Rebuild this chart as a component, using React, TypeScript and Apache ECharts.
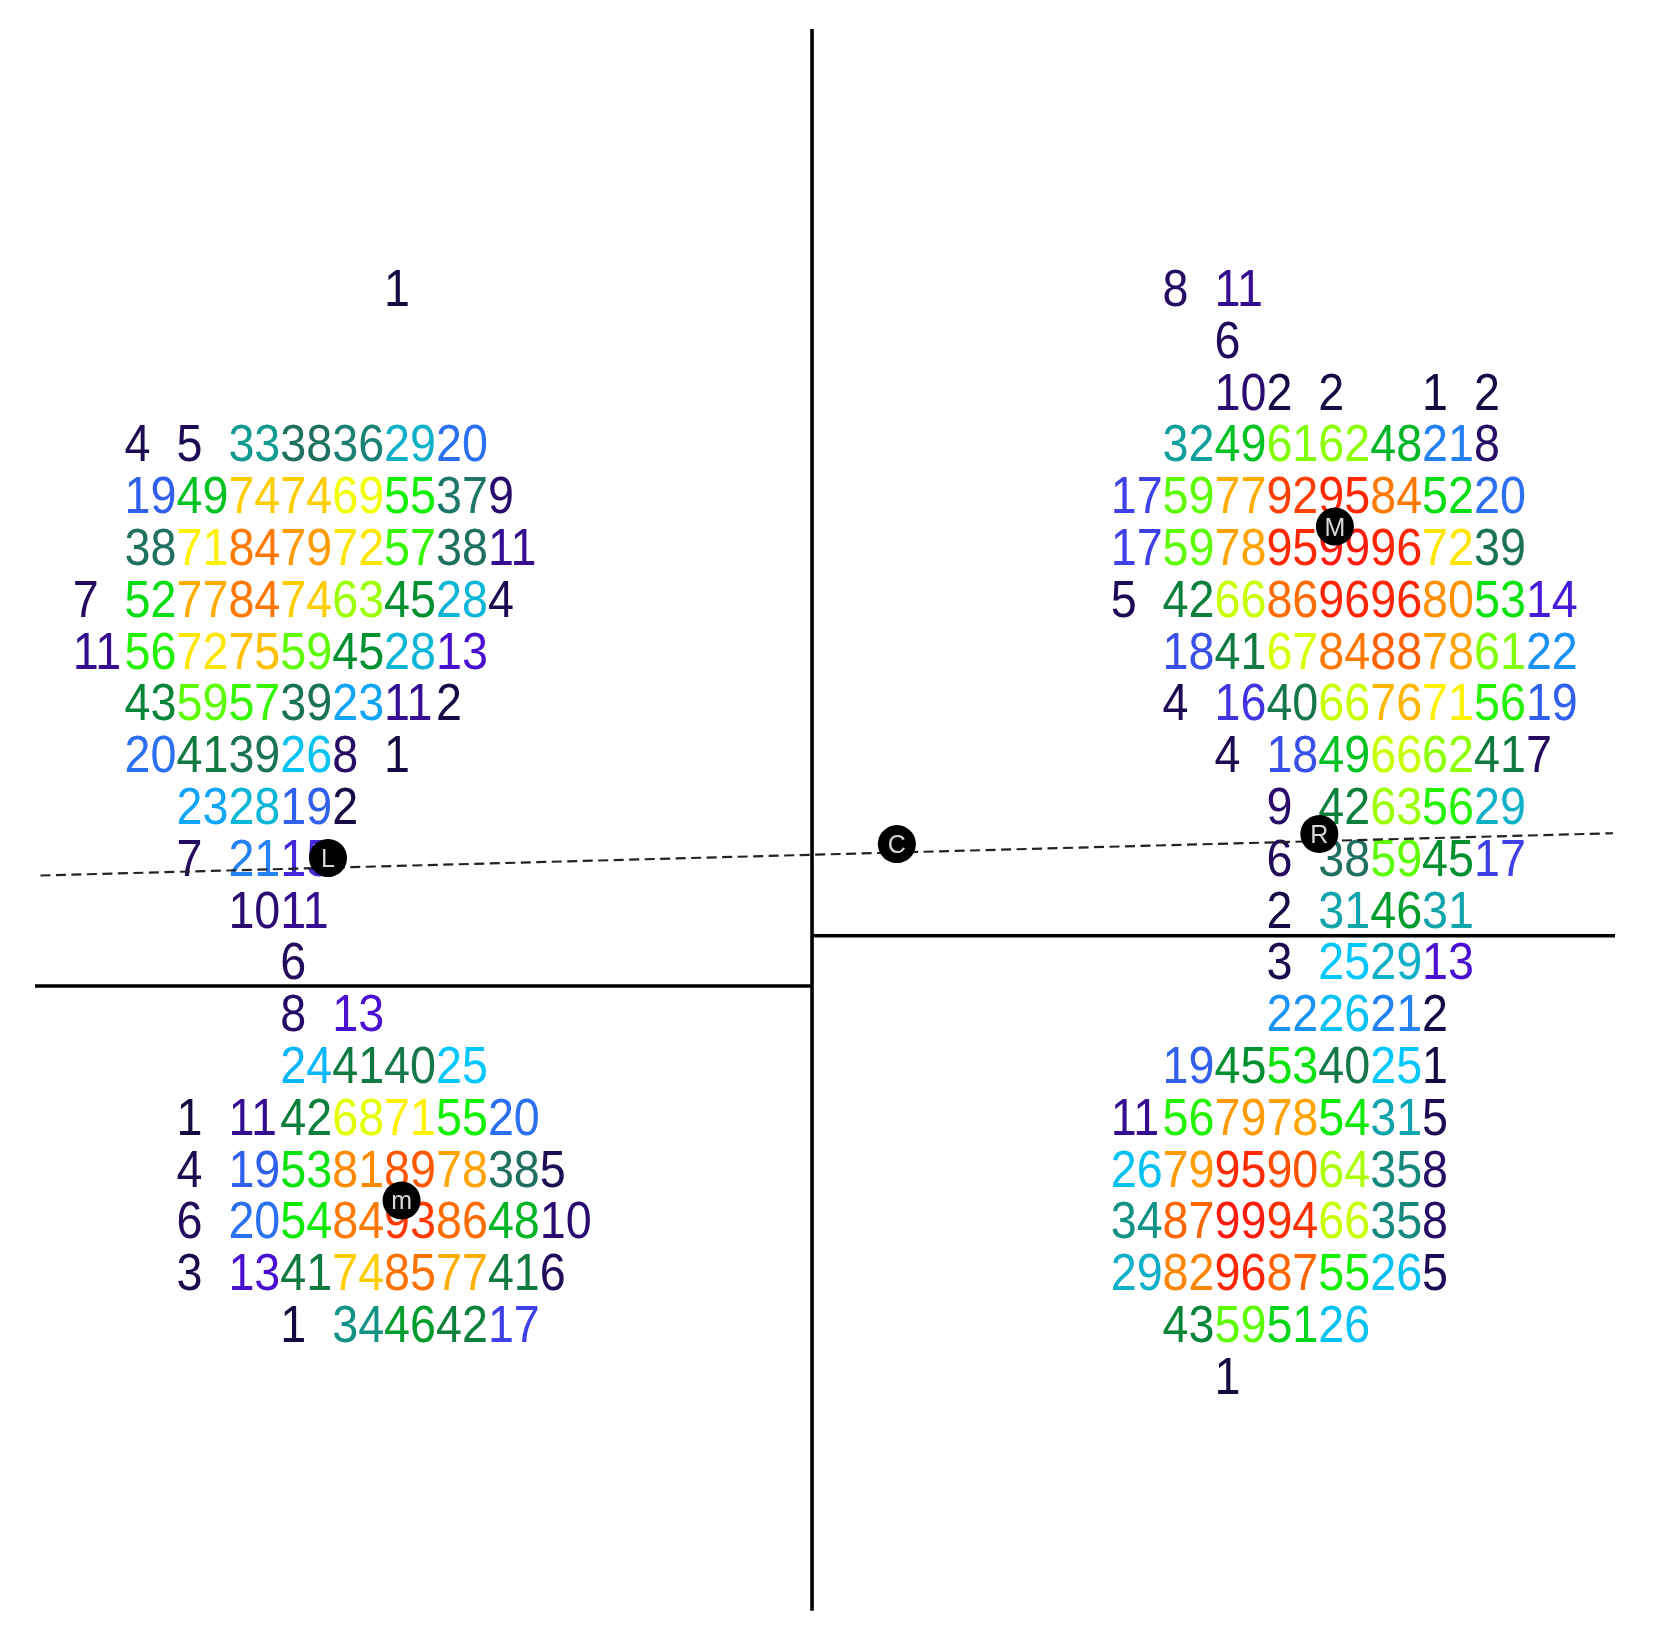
import React, { useEffect, useRef } from "react";
import * as echarts from "echarts";

const _ = null;

// Code-book counts per hexagon row; first entry of each row sits in column leftStartCol / rightStartCol
const leftStartCol = 0;
const leftRows: (number | null)[][] = [
  [_, _, _, _, _, _, 1],
  [],
  [],
  [_, 4, 5, 33, 38, 36, 29, 20],
  [_, 19, 49, 74, 74, 69, 55, 37, 9],
  [_, 38, 71, 84, 79, 72, 57, 38, 11],
  [7, 52, 77, 84, 74, 63, 45, 28, 4],
  [11, 56, 72, 75, 59, 45, 28, 13],
  [_, 43, 59, 57, 39, 23, 11, 2],
  [_, 20, 41, 39, 26, 8, 1],
  [_, _, 23, 28, 19, 2],
  [_, _, 7, 21, 15],
  [_, _, _, 10, 11],
  [_, _, _, _, 6],
  [_, _, _, _, 8, 13],
  [_, _, _, _, 24, 41, 40, 25],
  [_, _, 1, 11, 42, 68, 71, 55, 20],
  [_, _, 4, 19, 53, 81, 89, 78, 38, 5],
  [_, _, 6, 20, 54, 84, 93, 86, 48, 10],
  [_, _, 3, 13, 41, 74, 85, 77, 41, 6],
  [_, _, _, _, 1, 34, 46, 42, 17],
];

const rightStartCol = 20;
const rightRows: (number | null)[][] = [
  [_, 8, 11],
  [_, _, 6],
  [_, _, 10, 2, 2, _, 1, 2],
  [_, 32, 49, 61, 62, 48, 21, 8],
  [17, 59, 77, 92, 95, 84, 52, 20],
  [17, 59, 78, 95, 99, 96, 72, 39],
  [5, 42, 66, 86, 96, 96, 80, 53, 14],
  [_, 18, 41, 67, 84, 88, 78, 61, 22],
  [_, 4, 16, 40, 66, 76, 71, 56, 19],
  [_, _, 4, 18, 49, 66, 62, 41, 7],
  [_, _, _, 9, 42, 63, 56, 29],
  [_, _, _, 6, 38, 59, 45, 17],
  [_, _, _, 2, 31, 46, 31],
  [_, _, _, 3, 25, 29, 13],
  [_, _, _, 22, 26, 21, 2],
  [_, 19, 45, 53, 40, 25, 1],
  [11, 56, 79, 78, 54, 31, 5],
  [26, 79, 95, 90, 64, 35, 8],
  [34, 87, 99, 94, 66, 35, 8],
  [29, 82, 96, 87, 55, 26, 5],
  [_, 43, 59, 51, 26],
  [_, _, 1],
];

const centerNames = ["L", "C", "M", "R", "m"];
const centerCols = [4.919, 15.88, 24.32, 24.02, 6.337];
const centerRows = [10.999, 10.73, 4.6, 10.535, 17.61];

const dashedCols = [-0.622, 29.678];
const dashedRows = [11.336, 10.52];
const verticalCol = 14.245;
const verticalRows = [-5.006, 25.529];
const leftRuleRow = 13.469;
const leftRuleCols = [-0.726, 14.245];
const rightRuleRow = 12.5;
const rightRuleCols = [14.245, 29.717];

const colorValues = [1, 10, 13, 17, 20, 25, 29, 33, 38, 41, 45, 50, 55, 60, 66, 70, 75, 80, 88, 95, 99];
const colorStops = [
  "#150a40", "#2a0c70", "#4a10d0", "#4040e8", "#2a70f0", "#00c8ff", "#10b0c8",
  "#109a90", "#207060", "#107a40", "#009030", "#00d020", "#10f000", "#70ff00",
  "#c8ff00", "#ffff00", "#ffc000", "#ff9000", "#ff6000", "#ff2800", "#ff1a10",
];

function hexToRgb(h: string) {
  return [1, 3, 5].map((i) => parseInt(h.slice(i, i + 2), 16));
}
function colorOf(v: number) {
  let i = 0;
  while (i < colorValues.length - 2 && v > colorValues[i + 1]) i++;
  const t = Math.min(1, Math.max(0, (v - colorValues[i]) / (colorValues[i + 1] - colorValues[i])));
  const a = hexToRgb(colorStops[i]);
  const b = hexToRgb(colorStops[i + 1]);
  return `rgb(${a.map((c, j) => Math.round(c + (b[j] - c) * t)).join(",")})`;
}

function cells(rows: (number | null)[][], start: number) {
  const out: number[][] = [];
  rows.forEach((row, r) =>
    row.forEach((v, c) => {
      if (v !== null && v !== undefined) out.push([start + c, r, v]);
    })
  );
  return out;
}

const ruleStyle = { color: "#000", width: 3.6, type: "solid" as const, cap: "butt" as const };

function rule(points: number[][], lineStyle: any, z = 2) {
  return {
    type: "line",
    data: points,
    showSymbol: false,
    symbol: "none",
    silent: true,
    z,
    clip: false,
    lineStyle,
  };
}

export default function App() {
  const ref = useRef<HTMLDivElement>(null);
  useEffect(() => {
    const chart = echarts.init(ref.current!, undefined, { renderer: "svg" });
    chart.setOption({
      animation: false,
      backgroundColor: "#fff",
      grid: { left: 0, right: 0, top: 0, bottom: 0 },
      xAxis: { type: "value", min: -1.4008, max: 30.68, show: false },
      yAxis: { type: "value", min: -5.5656, max: 26.114, inverse: true, show: false },
      series: [
        rule(verticalRows.map((r) => [verticalCol, r]), ruleStyle),
        rule(leftRuleCols.map((c) => [c, leftRuleRow]), ruleStyle),
        rule(rightRuleCols.map((c) => [c, rightRuleRow]), ruleStyle),
        {
          type: "custom",
          silent: true,
          z: 3,
          clip: false,
          data: [...cells(leftRows, leftStartCol), ...cells(rightRows, rightStartCol)],
          encode: { x: 0, y: 1 },
          renderItem: (_p: any, api: any) => {
            const [x, y] = api.coord([api.value(0), api.value(1)]);
            const v = api.value(2);
            return {
              type: "text",
              x,
              y,
              scaleY: 1.1,
              style: {
                text: String(v),
                fill: colorOf(v),
                fontFamily: "Liberation Sans",
                fontSize: 46.7,
                align: "left",
                verticalAlign: "middle",
              },
            };
          },
        },
        rule(dashedCols.map((c, i) => [c, dashedRows[i]]), { color: "#222", width: 2.2, type: [10, 5.5] }, 4),
        {
          type: "scatter",
          silent: true,
          z: 5,
          symbol: "circle",
          symbolSize: 38,
          itemStyle: { color: "#000", opacity: 1 },
          data: centerNames.map((n, i) => ({ value: [centerCols[i], centerRows[i]], name: n })),
          label: {
            show: true,
            position: "inside",
            formatter: (p: any) => p.name,
            color: "#d8d8d8",
            fontFamily: "Liberation Sans",
            fontSize: 25,
          },
        },
      ],
    });
    return () => chart.dispose();
  }, []);
  return (
    <div
      ref={ref}
      style={{ position: "absolute", left: 0, top: 0, width: 1665, height: 1641, filter: "blur(0.7px)" }}
    />
  );
}
